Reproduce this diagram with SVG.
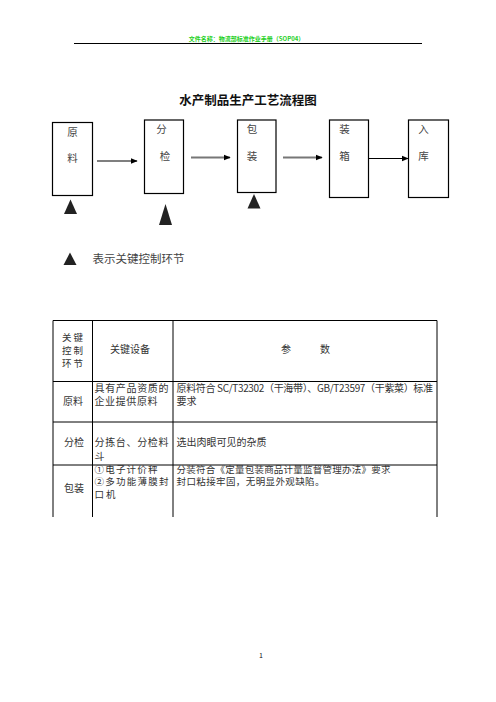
<svg xmlns="http://www.w3.org/2000/svg" width="496" height="702" viewBox="0 0 496 702">
<style>
text{font-family:"Noto Sans CJK SC","Noto Sans",sans-serif;fill:#222}
.box{fill:#fff;stroke:#000;stroke-width:1.2}
.bt{font-size:10.5px;fill:#444}
.tb{stroke:#000;stroke-width:1;fill:none}
.tt{font-size:10px;fill:#333}
.ts{font-size:9.5px;fill:#333}
.tri{fill:#222}
</style>
<defs>
<marker id="ah" viewBox="0 0 10 10" refX="9" refY="5" markerWidth="7" markerHeight="7" markerUnits="userSpaceOnUse" orient="auto">
<path d="M0,1 L10,5 L0,9 Z" fill="#000"/>
</marker>
</defs>
<rect width="496" height="702" fill="#fff"/>
<g id="header">
<text x="246.5" y="41" font-size="6" font-weight="bold" text-anchor="middle" style="fill:#1ed01e">文件名称：物流部标准作业手册（SOP04）</text>
<line x1="74" y1="43.5" x2="422" y2="43.5" stroke="#000" stroke-width="1"/>
</g>
<text x="248" y="104.5" font-size="12.5" font-weight="bold" text-anchor="middle" style="fill:#111">水产制品生产工艺流程图</text>
<g id="connectors">
<line x1="97" y1="161" x2="137" y2="161" stroke="#000" stroke-width="1.2" marker-end="url(#ah)"/>
<line x1="191" y1="157.5" x2="230" y2="157.5" stroke="#777" stroke-width="2" marker-end="url(#ah)"/>
<line x1="283" y1="157.5" x2="322" y2="157.5" stroke="#777" stroke-width="2" marker-end="url(#ah)"/>
<line x1="369" y1="158.5" x2="408" y2="158.5" stroke="#000" stroke-width="1" marker-end="url(#ah)"/>
</g>
<g id="n1"><rect class="box" x="52.5" y="122.5" width="40" height="73"/>
<text class="bt" x="72.5" y="135.5" text-anchor="middle">原</text>
<text class="bt" x="72.5" y="162" text-anchor="middle">料</text></g>
<g id="n2"><rect class="box" x="144.5" y="120" width="39" height="73.5"/>
<text class="bt" x="161.5" y="133" text-anchor="middle">分</text>
<text class="bt" x="165" y="159.5" text-anchor="middle">检</text></g>
<g id="n3"><rect class="box" x="237.5" y="120" width="38.5" height="72.5"/>
<text class="bt" x="252" y="133" text-anchor="middle">包</text>
<text class="bt" x="252" y="159.5" text-anchor="middle">装</text></g>
<g id="n4"><rect class="box" x="329.5" y="120" width="39" height="77.5"/>
<text class="bt" x="344.5" y="133" text-anchor="middle">装</text>
<text class="bt" x="344.5" y="159.5" text-anchor="middle">箱</text></g>
<g id="n5"><rect class="box" x="408.5" y="120" width="40" height="77.5"/>
<text class="bt" x="423.5" y="133" text-anchor="middle">入</text>
<text class="bt" x="423.5" y="159.5" text-anchor="middle">库</text></g>
<g id="markers">
<polygon class="tri" points="70.5,199.5 77,214 64,214"/>
<polygon class="tri" points="165.5,204 172,225 159,225"/>
<polygon class="tri" points="254,194 260.5,208.5 247.5,208.5"/>
<polygon class="tri" points="70,252.5 76.5,265 63.5,265"/>
</g>
<text x="92.5" y="262.5" font-size="11.5" style="fill:#444">表示关键控制环节</text>
<g id="table">
<line class="tb" x1="53" y1="320.5" x2="437" y2="320.5"/>
<line class="tb" x1="53" y1="381.5" x2="437" y2="381.5"/>
<line class="tb" x1="53" y1="422" x2="437" y2="422"/>
<line class="tb" x1="53" y1="465" x2="437" y2="465"/>
<line class="tb" x1="53" y1="320.5" x2="53" y2="517"/>
<line class="tb" x1="92.5" y1="320.5" x2="92.5" y2="517"/>
<line class="tb" x1="173" y1="320.5" x2="173" y2="517"/>
<line class="tb" x1="437" y1="320.5" x2="437" y2="517"/>
<text class="ts" x="62" y="341" textLength="21" lengthAdjust="spacing">关键</text>
<text class="ts" x="62" y="353.8" textLength="21" lengthAdjust="spacing">控制</text>
<text class="ts" x="62" y="366.6" textLength="21" lengthAdjust="spacing">环节</text>
<text class="tt" x="130" y="353" text-anchor="middle">关键设备</text>
<text class="tt" x="286" y="353" text-anchor="middle">参</text>
<text class="tt" x="325" y="353" text-anchor="middle">数</text>
<text class="tt" x="63" y="405">原料</text>
<text class="tt" x="94.5" y="391.5" textLength="74" lengthAdjust="spacing">具有产品资质的</text>
<text class="tt" x="94.5" y="405" textLength="63" lengthAdjust="spacing">企业提供原料</text>
<text class="tt" x="176.5" y="391.5" textLength="256.5" lengthAdjust="spacing">原料符合 SC/T32302（干海带）、GB/T23597（干紫菜）标准</text>
<text class="tt" x="176.5" y="405">要求</text>
<text class="tt" x="64" y="445.5">分检</text>
<text class="tt" x="94.5" y="445.5" textLength="74" lengthAdjust="spacing">分拣台、分检料</text>
<text class="tt" x="94.5" y="459.5">斗</text>
<text class="tt" x="176.5" y="445.5">选出肉眼可见的杂质</text>
<text class="tt" x="64" y="491.5">包装</text>
<text class="ts" x="94.5" y="472.5" textLength="63" lengthAdjust="spacing">①电子计价秤</text>
<text class="ts" x="94.5" y="485.3" textLength="74" lengthAdjust="spacing">②多功能薄膜封</text>
<text class="ts" x="94.5" y="498.1" textLength="21" lengthAdjust="spacing">口机</text>
<text class="ts" x="176.5" y="472.5" textLength="214" lengthAdjust="spacing">分装符合《定量包装商品计量监督管理办法》要求</text>
<text class="ts" x="176.5" y="485.3" textLength="148" lengthAdjust="spacing">封口粘接牢固，无明显外观缺陷。</text>
</g>
<text x="261" y="657.5" font-size="7" text-anchor="middle" style="fill:#111">1</text>
</svg>
